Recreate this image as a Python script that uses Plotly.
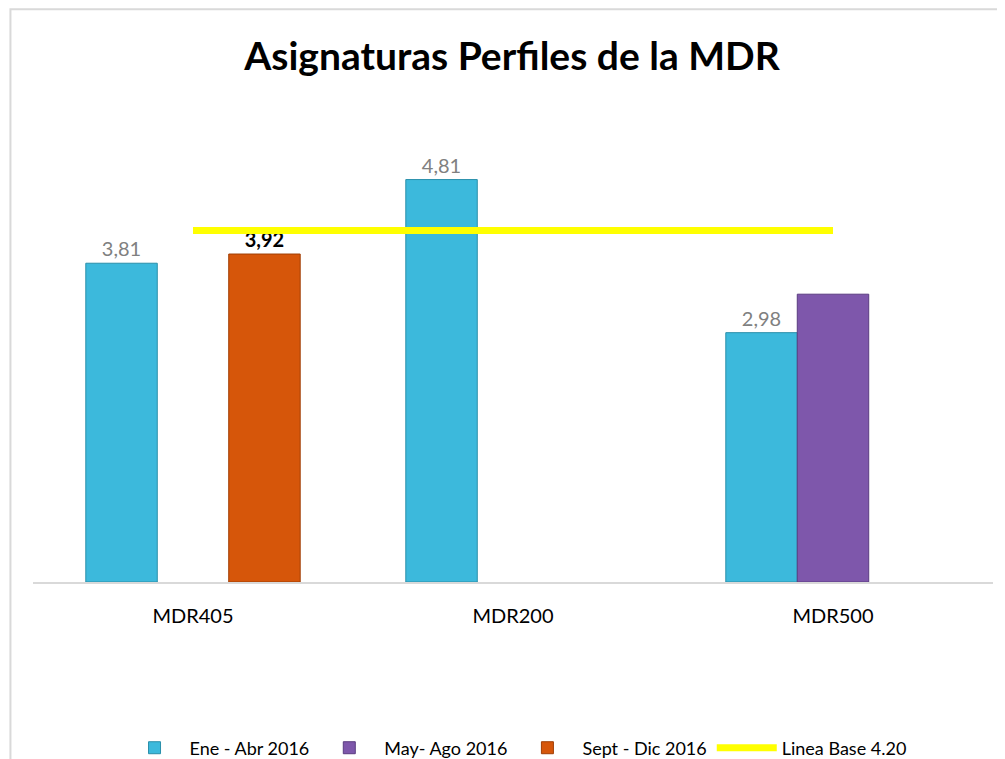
import plotly.graph_objects as go

categories = ["MDR405", "MDR200", "MDR500"]
ene_abr = [3.81, 4.81, 2.98]
may_ago = [None, None, 3.44]
sept_dic = [3.92, None, None]
linea_base = [4.20, 4.20, 4.20]

series_names = ["Ene - Abr 2016", "May- Ago 2016", "Sept - Dic 2016", "Linea Base 4.20"]

FONT = "Lato"


def fmt(v):
    return f"{v:.2f}".replace(".", ",")


fig = go.Figure()
fig.add_trace(go.Bar(
    x=categories, y=ene_abr, name=series_names[0],
    marker=dict(color="#3CB9DC", line=dict(color="#2A8FAA", width=1)),
    text=[fmt(v) for v in ene_abr], textposition="outside",
    textfont=dict(color="#808080", size=20, family=FONT), cliponaxis=False,
))
fig.add_trace(go.Bar(
    x=categories, y=may_ago, name=series_names[1],
    marker=dict(color="#7E57AB", line=dict(color="#5A3C80", width=1)),
))
fig.add_trace(go.Bar(
    x=categories, y=sept_dic, name=series_names[2],
    marker=dict(color="#D6560A", line=dict(color="#A03E05", width=1)),
    text=["<b>" + fmt(v) + "</b>" if v is not None else "" for v in sept_dic],
    textposition="outside", textfont=dict(color="#000000", size=20, family=FONT), cliponaxis=False,
))
fig.add_trace(go.Scatter(
    x=categories, y=linea_base, name=series_names[3], mode="lines",
    line=dict(color="#FFFF00", width=7),
))

fig.update_layout(
    width=1005, height=759,
    paper_bgcolor="white", plot_bgcolor="white",
    separators=",.",
    barmode="group", bargap=0.33, bargroupgap=0,
    margin=dict(l=25, r=20, t=72, b=185, autoexpand=False),
    title=dict(text="<b>Asignaturas Perfiles de la MDR</b>", x=0.5015, xanchor="center",
               y=0.936, yanchor="middle", font=dict(family=FONT, size=39, color="#000000")),
    font=dict(family=FONT, size=18, color="#000000"),
    xaxis=dict(showgrid=False, showline=True, linecolor="#D9D9D9", linewidth=2,
               ticks="outside", ticklen=15, tickcolor="rgba(0,0,0,0)",
               tickfont=dict(size=20, family=FONT, color="#000000")),
    yaxis=dict(range=[0, 6], showgrid=False, showticklabels=False, zeroline=False,
               showline=False, ticks=""),
    legend=dict(orientation="h", xref="container", yref="container",
                x=0.505, xanchor="center", y=0.025, yanchor="middle",
                font=dict(size=18, family=FONT), itemwidth=60, traceorder="normal"),
    shapes=[dict(type="rect", xref="paper", yref="paper", x0=-0.0235, x1=1.05, y0=-0.5, y1=1.141,
                 line=dict(color="#D9D9D9", width=2), layer="below")],
)

fig.write_html("out.html")
